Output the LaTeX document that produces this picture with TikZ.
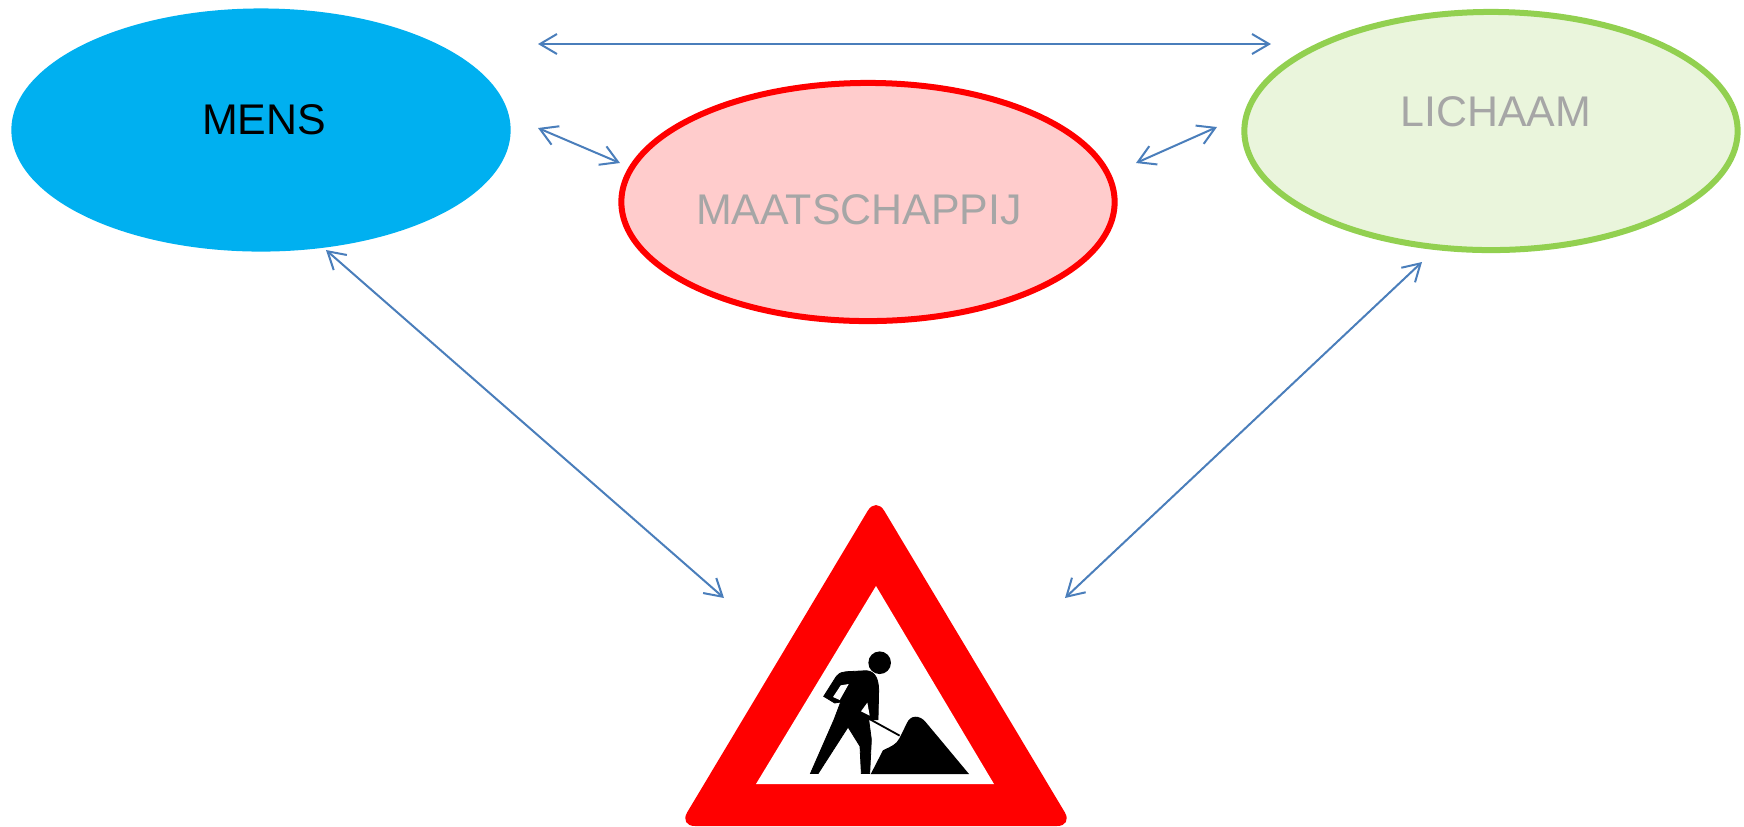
\documentclass[tikz,border=0pt]{standalone}
\usepackage{fontspec}
\setmainfont{Liberation Sans}
\usepackage{xcolor}
\usetikzlibrary{shapes.geometric}
\usetikzlibrary{arrows.meta}
\definecolor{mensblue}{HTML}{00B0F0}
\definecolor{maatpink}{HTML}{FFCCCC}
\definecolor{lichgreen}{HTML}{EAF5DC}
\definecolor{lichedge}{HTML}{92D050}
\definecolor{labelgray}{HTML}{A6A6A6}
\definecolor{linkblue}{HTML}{4A7EBB}
\tikzset{
    blob/.style={ellipse, inner sep=0pt, outer sep=0pt, minimum width=4.93cm, minimum height=2.38cm},
    blobtext/.style={font=\fontsize{12.2}{14}\selectfont, inner sep=0pt},
    link/.style={linkblue, line width=0.02cm, {Straight Barb[length=0.17cm,width=0.2cm]}-{Straight Barb[length=0.17cm,width=0.2cm]}}
}

\begin{document}
\begin{tikzpicture}[x=0.01cm,y=-0.01cm]
    \useasboundingbox (0,0) rectangle (1744,826);
    \node[blob, fill=mensblue, minimum width=4.99cm, minimum height=2.43cm] (mens) at (261,130) {};
    \node[blob, fill=maatpink, draw=red, line width=0.06cm] (maatschappij) at (868,202) {};
    \node[blob, fill=lichgreen, draw=lichedge, line width=0.06cm] (lichaam) at (1491,131) {};
    \node[blobtext, text=black] (mensText) at (264,120) {MENS};
    \node[blobtext, text=labelgray] (maatText) at (859,210) {MAATSCHAPPIJ};
    \node[blobtext, text=labelgray] (lichText) at (1496,112) {LICHAAM};

    % the sign
    \fill[red, rounded corners=0.16cm] (876,497) -- (1073,826) -- (679,826) -- cycle;
    \fill[white] (876,586) -- (994,784) -- (756,784) -- cycle;
    \begin{scope}[shift={(670,490)},x=0.003333cm,y=-0.003333cm]
        \fill (630,519) circle (34);
        \filldraw[line width=0.008cm] (462,620) -- (500,560) .. controls (510,548) and (520,547) .. (530,546) -- (590,543) .. controls (615,545) and (626,565) .. (627,600) -- (625,690) -- (597,690) -- (605,750) -- (600,852) -- (575,852) -- (571,770) -- (535,712) -- (445,852) -- (422,852) -- (493,690) -- (513,637) -- (495,640) -- cycle;
        \fill[white] (490,622) -- (513,587) -- (537,583) -- (510,631) -- cycle;
        \fill[white] (593,639) -- (574,665) -- (600,678) -- cycle;
        \draw[line width=0.018cm] (570,672) -- (690,738);
        \fill (603,854) -- (640,782) .. controls (665,770) and (680,765) .. (690,745) -- (712,700) .. controls (722,676) and (750,675) .. (768,697) -- (899,854) -- cycle;
    \end{scope}

    \coordinate (topLeft) at (538,44);
    \coordinate (topRight) at (1271,44);
    \coordinate (mensEast) at (538,128);
    \coordinate (maatWest) at (620,163);
    \coordinate (maatEast) at (1136,163);
    \coordinate (lichWest) at (1217,127);
    \coordinate (mensSouth) at (326,250);
    \coordinate (signWest) at (724,598);
    \coordinate (lichSouth) at (1422,262);
    \coordinate (signEast) at (1065,598);
    \draw[link] (topLeft) -- (topRight);
    \draw[link] (mensEast) -- (maatWest);
    \draw[link] (maatEast) -- (lichWest);
    \draw[link] (mensSouth) -- (signWest);
    \draw[link] (lichSouth) -- (signEast);
\end{tikzpicture}
\end{document}
